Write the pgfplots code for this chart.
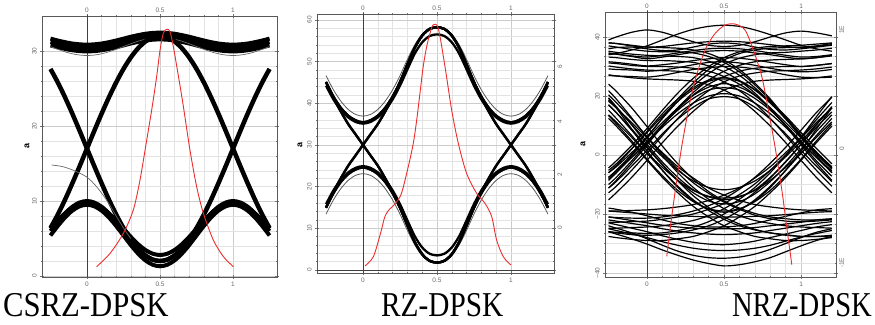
\documentclass[border=0pt]{standalone}
\usepackage{fontspec}
\setmainfont{Liberation Serif}
\setsansfont{Liberation Sans}
\usepackage{pgfplots}
\usepackage{pgfplotstable}
\pgfplotsset{compat=1.18}
\definecolor{eyered}{RGB}{236,45,45}
\definecolor{tickgray}{RGB}{105,105,105}

% ---------- CSRZ-DPSK traces (one row per trace) ----------
\pgfplotstableread{
name c1 c2 c3 c4 c5 c6 c7 c8 c9 c10 c11 c12 c13 c14 c15 c16 c17 c18 c19 c20 c21 c22 c23 c24 c25 c26 c27 c28 c29 c30 c31
x -0.25 -0.2 -0.15 -0.1 -0.05 0 0.05 0.1 0.15 0.2 0.25 0.3 0.35 0.4 0.45 0.5 0.55 0.6 0.65 0.7 0.75 0.8 0.85 0.9 0.95 1 1.05 1.1 1.15 1.2 1.25
R 6.39 8.18 10.19 12.37 14.65 17.00 19.35 21.64 23.81 25.82 27.61 29.14 30.37 31.27 31.82 32.00 31.82 31.27 30.37 29.14 27.61 25.82 23.81 21.64 19.35 17.00 14.65 12.37 10.19 8.18 6.39
F 27.61 25.82 23.81 21.64 19.35 17.00 14.65 12.37 10.19 8.18 6.39 4.86 3.63 2.73 2.18 2.00 2.18 2.73 3.63 4.86 6.39 8.18 10.19 12.37 14.65 17.00 19.35 21.64 23.81 25.82 27.61
U 31.20 30.95 30.73 30.55 30.44 30.40 30.44 30.55 30.73 30.95 31.20 31.45 31.67 31.85 31.96 32.00 31.96 31.85 31.67 31.45 31.20 30.95 30.73 30.55 30.44 30.40 30.44 30.55 30.73 30.95 31.20
Ua 31.65 31.40 31.18 31.00 30.89 30.85 30.89 31.00 31.18 31.40 31.65 31.90 32.12 32.30 32.41 32.45 32.41 32.30 32.12 31.90 31.65 31.40 31.18 31.00 30.89 30.85 30.89 31.00 31.18 31.40 31.65
Ub 30.75 30.50 30.28 30.10 29.99 29.95 29.99 30.10 30.28 30.50 30.75 31.00 31.22 31.40 31.51 31.55 31.51 31.40 31.22 31.00 30.75 30.50 30.28 30.10 29.99 29.95 29.99 30.10 30.28 30.50 30.75
Ut 30.60 30.23 29.89 29.63 29.46 29.40 29.46 29.63 29.89 30.23 30.60 30.97 31.31 31.57 31.74 31.80 31.74 31.57 31.31 30.97 30.60 30.23 29.89 29.63 29.46 29.40 29.46 29.63 29.89 30.23 30.60
B 6.00 7.24 8.35 9.24 9.80 10.00 9.80 9.24 8.35 7.24 6.00 4.76 3.65 2.76 2.20 2.00 2.20 2.76 3.65 4.76 6.00 7.24 8.35 9.24 9.80 10.00 9.80 9.24 8.35 7.24 6.00
Bb 5.40 6.67 7.81 8.72 9.30 9.50 9.30 8.72 7.81 6.67 5.40 4.13 2.99 2.08 1.50 1.30 1.50 2.08 2.99 4.13 5.40 6.67 7.81 8.72 9.30 9.50 9.30 8.72 7.81 6.67 5.40
Bc 6.30 7.38 8.36 9.13 9.63 9.80 9.63 9.13 8.36 7.38 6.30 5.22 4.24 3.47 2.97 2.80 2.97 3.47 4.24 5.22 6.30 7.38 8.36 9.13 9.63 9.80 9.63 9.13 8.36 7.38 6.30
}\rawone
\pgfplotstabletranspose[colnames from=name]{\dataone}{\rawone}

% ---------- RZ-DPSK traces ----------
\pgfplotstableread{
name c1 c2 c3 c4 c5 c6 c7 c8 c9 c10 c11 c12 c13 c14 c15 c16 c17 c18 c19 c20 c21 c22 c23 c24 c25 c26 c27 c28 c29 c30 c31
x -0.25 -0.2 -0.15 -0.1 -0.05 0 0.05 0.1 0.15 0.2 0.25 0.3 0.35 0.4 0.45 0.5 0.55 0.6 0.65 0.7 0.75 0.8 0.85 0.9 0.95 1 1.05 1.1 1.15 1.2 1.25
Ucc 15.0 18.7 22.0 25.0 27.5 30.0 32.5 35.0 38.0 41.3 45.0 49.3 53.3 56.2 57.8 58.2 57.8 56.2 53.3 49.3 45.0 41.3 38.0 35.0 32.5 30.0 27.5 25.0 22.0 18.7 15.0
Lcc 45.0 41.3 38.0 35.0 32.5 30.0 27.5 25.0 22.0 18.7 15.0 10.7 6.7 3.8 2.2 1.8 2.2 3.8 6.7 10.7 15.0 18.7 22.0 25.0 27.5 30.0 32.5 35.0 38.0 41.3 45.0
Uaa 45.1 41.6 38.9 37.0 35.9 35.4 35.9 37.0 38.9 41.6 45.1 49.3 53.3 56.2 57.8 58.2 57.8 56.2 53.3 49.3 45.1 41.6 38.9 37.0 35.9 35.4 35.9 37.0 38.9 41.6 45.1
Laa 14.9 18.4 21.1 23.0 24.1 24.6 24.1 23.0 21.1 18.4 14.9 10.7 6.7 3.8 2.2 1.8 2.2 3.8 6.7 10.7 14.9 18.4 21.1 23.0 24.1 24.6 24.1 23.0 21.1 18.4 14.9
Uac 45.1 41.6 38.9 37.0 35.9 35.4 35.9 37.0 38.9 41.6 45.1 49.3 53.3 56.2 57.8 58.2 57.8 56.2 53.3 49.3 45.0 41.3 38.0 35.0 32.5 30.0 27.5 25.0 22.0 18.7 15.0
Uca 15.0 18.7 22.0 25.0 27.5 30.0 32.5 35.0 38.0 41.3 45.0 49.3 53.3 56.2 57.8 58.2 57.8 56.2 53.3 49.3 45.1 41.6 38.9 37.0 35.9 35.4 35.9 37.0 38.9 41.6 45.1
Lac 14.9 18.4 21.1 23.0 24.1 24.6 24.1 23.0 21.1 18.4 14.9 10.7 6.7 3.8 2.2 1.8 2.2 3.8 6.7 10.7 15.0 18.7 22.0 25.0 27.5 30.0 32.5 35.0 38.0 41.3 45.0
Lca 45.0 41.3 38.0 35.0 32.5 30.0 27.5 25.0 22.0 18.7 15.0 10.7 6.7 3.8 2.2 1.8 2.2 3.8 6.7 10.7 14.9 18.4 21.1 23.0 24.1 24.6 24.1 23.0 21.1 18.4 14.9
Uo 46.6 43.2 40.5 38.5 37.3 36.9 37.3 38.5 40.5 43.2 46.6 50.5 54.0 56.6 58.0 58.4 58.0 56.6 54.0 50.5 46.6 43.2 40.5 38.5 37.3 36.9 37.3 38.5 40.5 43.2 46.6
Lo 13.4 16.8 19.5 21.5 22.7 23.1 22.7 21.5 19.5 16.8 13.4 9.5 6.0 3.4 2.0 1.6 2.0 3.4 6.0 9.5 13.4 16.8 19.5 21.5 22.7 23.1 22.7 21.5 19.5 16.8 13.4
Uv 44.2 40.9 38.4 36.6 35.5 35.1 35.5 36.6 38.4 40.9 44.2 48.1 51.9 54.6 56.1 56.5 56.1 54.6 51.9 48.1 44.2 40.9 38.4 36.6 35.5 35.1 35.5 36.6 38.4 40.9 44.2
Lv 15.8 19.1 21.6 23.4 24.5 24.9 24.5 23.4 21.6 19.1 15.8 11.9 8.1 5.4 3.9 3.5 3.9 5.4 8.1 11.9 15.8 19.1 21.6 23.4 24.5 24.9 24.5 23.4 21.6 19.1 15.8
}\rawtwo
\pgfplotstabletranspose[colnames from=name]{\datatwo}{\rawtwo}

% ---------- NRZ-DPSK traces ----------
\pgfplotstableread{
name c1 c2 c3 c4 c5 c6 c7 c8 c9 c10 c11 c12 c13 c14 c15 c16
x -0.25 -0.2 -0.1 0 0.1 0.2 0.3 0.4 0.5 0.6 0.7 0.8 0.9 1 1.1 1.2
h1 1.90 1.89 1.86 1.83 1.84 1.87 1.90 1.92 1.93 1.92 1.90 1.87 1.84 1.82 1.84 1.87
h2 1.58 1.57 1.54 1.51 1.53 1.56 1.60 1.63 1.65 1.64 1.61 1.57 1.53 1.50 1.52 1.55
h3 1.35 1.34 1.33 1.32 1.35 1.40 1.45 1.48 1.50 1.49 1.46 1.41 1.36 1.32 1.31 1.32
h4 1.72 1.71 1.68 1.66 1.69 1.73 1.77 1.80 1.81 1.80 1.77 1.73 1.69 1.66 1.67 1.70
h5 1.70 1.72 1.78 1.85 1.95 2.05 2.13 2.18 2.20 2.18 2.12 2.04 1.95 1.86 1.80 1.76
h6 1.95 2.00 2.08 2.12 2.08 2.00 1.92 1.86 1.84 1.86 1.92 2.00 2.07 2.10 2.07 2.02
h7 1.73 1.71 1.67 1.63 1.66 1.70 1.74 1.76 1.77 1.76 1.73 1.70 1.66 1.63 1.65 1.69
h8 1.46 1.45 1.44 1.42 1.44 1.48 1.53 1.57 1.58 1.56 1.52 1.47 1.43 1.41 1.42 1.45
h9 1.80 1.82 1.83 1.80 1.77 1.78 1.83 1.88 1.90 1.88 1.83 1.79 1.78 1.80 1.83 1.86
l1 -0.95 -0.96 -0.98 -1.00 -1.02 -1.03 -1.04 -1.05 -1.05 -1.05 -1.04 -1.03 -1.01 -0.99 -0.97 -0.96
l2 -1.10 -1.12 -1.16 -1.20 -1.25 -1.29 -1.32 -1.34 -1.35 -1.34 -1.32 -1.28 -1.24 -1.20 -1.16 -1.13
l3 -1.25 -1.28 -1.34 -1.40 -1.47 -1.53 -1.58 -1.61 -1.62 -1.61 -1.58 -1.53 -1.46 -1.39 -1.33 -1.28
l4 -1.05 -1.07 -1.11 -1.15 -1.19 -1.22 -1.24 -1.25 -1.25 -1.25 -1.23 -1.20 -1.17 -1.14 -1.10 -1.08
l5 -1.30 -1.34 -1.42 -1.51 -1.61 -1.70 -1.78 -1.84 -1.88 -1.86 -1.81 -1.74 -1.64 -1.54 -1.45 -1.38
l6 -1.15 -1.18 -1.24 -1.30 -1.37 -1.43 -1.48 -1.51 -1.52 -1.50 -1.46 -1.40 -1.34 -1.28 -1.22 -1.18
l7 -0.90 -0.92 -0.97 -1.03 -1.10 -1.16 -1.20 -1.22 -1.22 -1.20 -1.16 -1.10 -1.04 -0.98 -0.93 -0.91
l8 -1.20 -1.24 -1.32 -1.42 -1.53 -1.63 -1.70 -1.74 -1.75 -1.73 -1.68 -1.60 -1.50 -1.40 -1.31 -1.25
a1 -0.26 -0.15 0.11 0.38 0.66 0.91 1.11 1.25 1.29 1.25 1.11 0.91 0.66 0.38 0.11 -0.15
a2 -0.56 -0.45 -0.19 0.08 0.36 0.61 0.81 0.95 0.99 0.95 0.81 0.61 0.36 0.08 -0.19 -0.45
a3 -0.41 -0.30 -0.04 0.23 0.51 0.76 0.96 1.10 1.14 1.10 0.96 0.76 0.51 0.23 -0.04 -0.30
a4 -0.38 -0.27 -0.04 0.21 0.47 0.70 0.88 1.00 1.04 1.00 0.88 0.70 0.47 0.21 -0.04 -0.27
a5 -0.56 -0.43 -0.14 0.17 0.49 0.78 1.01 1.15 1.21 1.15 1.01 0.78 0.49 0.17 -0.14 -0.43
a6 -0.30 -0.18 0.10 0.40 0.70 0.95 1.14 1.27 1.31 1.26 1.10 0.88 0.62 0.33 0.05 -0.22
b1 0.93 0.80 0.52 0.23 -0.03 -0.26 -0.44 -0.55 -0.59 -0.55 -0.44 -0.26 -0.03 0.23 0.52 0.80
b2 0.97 0.82 0.51 0.18 -0.12 -0.38 -0.59 -0.71 -0.76 -0.71 -0.59 -0.38 -0.12 0.18 0.51 0.82
b3 0.67 0.53 0.24 -0.07 -0.35 -0.60 -0.79 -0.91 -0.95 -0.91 -0.79 -0.60 -0.35 -0.07 0.24 0.53
b4 0.68 0.56 0.30 0.03 -0.21 -0.43 -0.60 -0.70 -0.73 -0.70 -0.60 -0.43 -0.21 0.03 0.30 0.56
b5 0.96 0.80 0.44 0.07 -0.26 -0.55 -0.78 -0.92 -0.97 -0.92 -0.78 -0.55 -0.26 0.07 0.44 0.80
b6 0.85 0.72 0.42 0.12 -0.17 -0.43 -0.64 -0.78 -0.83 -0.79 -0.66 -0.45 -0.19 0.10 0.40 0.68
c1 1.02 0.89 0.61 0.31 0.02 -0.24 -0.47 -0.65 -0.80 -0.92 -1.02 -1.08 -1.12 -1.13 -1.12 -1.10
c2 0.76 0.62 0.33 0.03 -0.26 -0.53 -0.76 -0.94 -1.09 -1.20 -1.27 -1.32 -1.35 -1.38 -1.38 -1.39
c3 1.09 0.95 0.63 0.30 -0.01 -0.30 -0.55 -0.75 -0.91 -1.03 -1.11 -1.16 -1.20 -1.22 -1.23 -1.24
c4 0.62 0.49 0.21 -0.09 -0.38 -0.64 -0.87 -1.05 -1.20 -1.30 -1.38 -1.42 -1.45 -1.45 -1.43 -1.40
c5 0.91 0.80 0.55 0.29 0.04 -0.20 -0.39 -0.56 -0.68 -0.77 -0.84 -0.88 -0.91 -0.93 -0.94 -0.95
c6 1.20 1.08 0.80 0.48 0.15 -0.15 -0.41 -0.62 -0.78 -0.90 -0.99 -1.05 -1.08 -1.10 -1.10 -1.09
c7 0.85 0.72 0.44 0.14 -0.16 -0.44 -0.69 -0.89 -1.05 -1.17 -1.26 -1.32 -1.36 -1.38 -1.38 -1.36
d1 -1.14 -1.14 -1.13 -1.12 -1.09 -1.05 -1.00 -0.92 -0.82 -0.67 -0.49 -0.26 0.00 0.29 0.60 0.89
d2 -1.30 -1.32 -1.35 -1.36 -1.35 -1.32 -1.27 -1.20 -1.09 -0.94 -0.76 -0.53 -0.26 0.03 0.33 0.62
d3 -1.24 -1.24 -1.23 -1.22 -1.20 -1.16 -1.11 -1.03 -0.91 -0.75 -0.55 -0.30 -0.01 0.30 0.65 0.99
d4 -1.38 -1.40 -1.43 -1.45 -1.45 -1.42 -1.38 -1.30 -1.20 -1.05 -0.87 -0.64 -0.38 -0.09 0.21 0.49
d5 -0.95 -0.95 -0.94 -0.93 -0.91 -0.88 -0.84 -0.77 -0.68 -0.56 -0.39 -0.20 0.04 0.29 0.55 0.80
d6 -1.05 -1.06 -1.07 -1.07 -1.05 -1.01 -0.95 -0.86 -0.74 -0.58 -0.38 -0.14 0.13 0.42 0.72 0.98
d7 -1.30 -1.31 -1.32 -1.33 -1.32 -1.28 -1.22 -1.13 -1.00 -0.83 -0.63 -0.39 -0.11 0.18 0.47 0.73
e1 1.76 1.74 1.71 1.69 1.68 1.67 1.65 1.59 1.50 1.35 1.14 0.89 0.61 0.31 0.02 -0.24
e2 1.51 1.49 1.46 1.44 1.43 1.42 1.39 1.34 1.24 1.09 0.88 0.62 0.33 0.03 -0.26 -0.53
e3 1.90 1.89 1.85 1.83 1.82 1.81 1.78 1.72 1.61 1.45 1.22 0.95 0.63 0.30 -0.01 -0.30
e4 1.36 1.34 1.31 1.29 1.28 1.27 1.25 1.19 1.10 0.95 0.74 0.49 0.21 -0.09 -0.38 -0.64
e5 1.56 1.55 1.52 1.50 1.50 1.49 1.47 1.42 1.33 1.20 1.02 0.80 0.55 0.29 0.04 -0.20
e6 1.66 1.65 1.62 1.60 1.60 1.59 1.57 1.51 1.41 1.26 1.05 0.79 0.50 0.20 -0.10 -0.36
e7 1.85 1.83 1.79 1.76 1.75 1.75 1.73 1.67 1.57 1.41 1.19 0.93 0.64 0.34 0.04 -0.22
f1 -0.38 -0.26 0.01 0.31 0.62 0.91 1.17 1.38 1.54 1.64 1.70 1.73 1.74 1.76 1.78 1.81
f2 -0.64 -0.53 -0.26 0.03 0.33 0.62 0.88 1.09 1.24 1.34 1.39 1.42 1.43 1.44 1.46 1.49
f3 -0.43 -0.30 -0.01 0.30 0.63 0.95 1.22 1.45 1.61 1.72 1.78 1.81 1.82 1.83 1.85 1.89
f4 -0.76 -0.64 -0.38 -0.09 0.21 0.49 0.74 0.95 1.10 1.19 1.25 1.27 1.28 1.29 1.31 1.34
f5 -0.30 -0.20 0.04 0.29 0.55 0.80 1.02 1.20 1.33 1.42 1.47 1.49 1.50 1.50 1.52 1.55
f6 -0.50 -0.38 -0.10 0.20 0.51 0.80 1.06 1.27 1.42 1.52 1.58 1.61 1.62 1.63 1.65 1.68
f7 -0.22 -0.10 0.16 0.45 0.76 1.05 1.30 1.50 1.65 1.75 1.81 1.84 1.85 1.86 1.88 1.90
}\rawthree
\pgfplotstabletranspose[colnames from=name]{\datathree}{\rawthree}

\pgfplotsset{
  eyeaxis/.style={
    scale only axis, anchor=south west,
    axis line style={draw=black!65, line width=0.7bp},
    grid=both,
    major grid style={draw=black!20, line width=0.4bp},
    minor grid style={draw=black!11, line width=0.35bp},
    tick style={draw=black!55, line width=0.45bp},
    major tick length=3.5bp, minor tick length=2bp,
    tick align=center,
    ticklabel style={font=\fontsize{6.5}{7}\selectfont\sffamily, text=tickgray},
    /pgf/number format/assume math mode=true,
    xtick={0,0.5,1}, xticklabels={0,0.5,1},
    minor x tick num=4,
    yticklabel style={rotate=90, anchor=south},
    ylabel style={font=\fontsize{9}{9}\selectfont\sffamily\bfseries, anchor=center},
  },
  eyeover/.style={
    scale only axis, anchor=south west,
    axis line style={draw=none},
    tick style={draw=none},
    ticklabel style={font=\fontsize{6.5}{7}\selectfont\sffamily, text=tickgray},
    /pgf/number format/assume math mode=true,
    xtick={0,0.5,1}, xticklabels={0,0.5,1},
    xticklabel pos=upper, yticklabel pos=right,
    yticklabel style={rotate=90, anchor=north},
  },
  trA/.style={black, line width=4.5bp, smooth},
  trB/.style={black, line width=4bp, smooth},
  trT/.style={black!60, line width=0.7bp, smooth},
  rzM/.style={black, line width=2.3bp, smooth},
  rzT/.style={black!65, line width=0.8bp, smooth},
  nrz/.style={black, line width=1.2bp, smooth},
  redc/.style={eyered, line width=0.9bp, smooth},
  zline/.style={black!75, line width=0.7bp},
}

\begin{document}
\begin{tikzpicture}
\path[use as bounding box] (0bp,0bp) rectangle (875bp,325bp);

% ===== Panel 1: CSRZ-DPSK =====
\begin{axis}[eyeaxis, at={(42bp,48bp)}, width=235bp, height=261bp,
  xmin=-0.308, xmax=1.301, ymin=-0.133, ymax=34.67,
  ytick={0,10,20,30}, minor y tick num=4,
  ylabel={a}, ylabel style={at={(axis description cs:-0.064,0.5)}}]
  \addplot[zline] coordinates {(0,-5) (0,40)};
  \addplot[trB] table[x=x,y=Ua] {\dataone};
  \addplot[trB] table[x=x,y=U] {\dataone};
  \addplot[trB] table[x=x,y=Ub] {\dataone};
  \addplot[trT] table[x=x,y=Ut] {\dataone};
  \addplot[trB] table[x=x,y=B] {\dataone};
  \addplot[trB] table[x=x,y=Bb] {\dataone};
  \addplot[trB] table[x=x,y=Bc] {\dataone};
  \addplot[trA] table[x=x,y=R] {\dataone};
  \addplot[trA] table[x=x,y=F] {\dataone};
  \addplot[trT] coordinates {(-0.242,14.8) (-0.17,14.6) (-0.094,14.1) (-0.002,13.2) (0.066,11.9) (0.135,10.1) (0.203,7.9) (0.26,6.1) (0.3,5.0)};
  \addplot[redc] coordinates {(0.066,1.24) (0.158,3.02) (0.249,5.69) (0.317,8.8) (0.363,12.8) (0.409,18.13) (0.443,22.13) (0.477,26.6) (0.500,30.1) (0.523,32.4) (0.546,32.9) (0.568,32.6) (0.591,30.6) (0.623,27.0) (0.660,22.6) (0.705,16.8) (0.751,11.9) (0.797,8.36) (0.865,4.8) (0.934,2.58) (1.002,1.24)};
\end{axis}
\begin{axis}[eyeover, at={(42bp,48bp)}, width=235bp, height=261bp,
  xmin=-0.308, xmax=1.301, ymin=-0.133, ymax=34.67, ytick=\empty]
\end{axis}

% ===== Panel 2: RZ-DPSK =====
\begin{axis}[eyeaxis, at={(317bp,52bp)}, width=237bp, height=259bp,
  xmin=-0.311, xmax=1.291, ymin=-0.72, ymax=61.39,
  ytick={0,10,20,30,40,50,60}, minor y tick num=4,
  ylabel={a}, ylabel style={at={(axis description cs:-0.072,0.494)}}]
  \addplot[zline] coordinates {(0,-5) (0,70)};
  \addplot[zline] coordinates {(-1,0) (2,0)};
  \addplot[rzT] table[x=x,y=Uo] {\datatwo};
  \addplot[rzT] table[x=x,y=Lo] {\datatwo};
  \addplot[rzM] table[x=x,y=Uv] {\datatwo};
  \addplot[rzM] table[x=x,y=Lv] {\datatwo};
  \addplot[rzM] table[x=x,y=Ucc] {\datatwo};
  \addplot[rzM] table[x=x,y=Lcc] {\datatwo};
  \addplot[rzM] table[x=x,y=Uaa] {\datatwo};
  \addplot[rzM] table[x=x,y=Laa] {\datatwo};
  \addplot[rzM] table[x=x,y=Uac] {\datatwo};
  \addplot[rzM] table[x=x,y=Uca] {\datatwo};
  \addplot[rzM] table[x=x,y=Lac] {\datatwo};
  \addplot[rzM] table[x=x,y=Lca] {\datatwo};
  \addplot[redc] coordinates {(0.014,1.0) (0.07,3.2) (0.12,9.0) (0.145,12.5) (0.17,14.2) (0.22,16.0) (0.26,18.4) (0.306,24.8) (0.34,30.4) (0.363,36.0) (0.385,42.4) (0.407,48.8) (0.43,53.5) (0.453,56.8) (0.475,58.8) (0.509,57.9) (0.554,48.8) (0.599,38.4) (0.644,30.4) (0.70,23.2) (0.768,18.4) (0.824,16.0) (0.87,12.8) (0.903,7.2) (0.948,3.2) (1.0,1.2)};
\end{axis}
\begin{axis}[eyeover, at={(317bp,52bp)}, width=237bp, height=259bp,
  xmin=-0.311, xmax=1.291, ymin=-0.72, ymax=61.39,
  ytick={10.1,22.8,35.5,48.7}, yticklabels={0,2,4,6}]
\end{axis}

% ===== Panel 3: NRZ-DPSK =====
\begin{axis}[eyeaxis, at={(605bp,48bp)}, width=231bp, height=265bp,
  xmin=-0.273, xmax=1.227, ymin=-2.068, ymax=2.424,
  ytick={-2,-1,0,1,2}, yticklabels={−40,−20,0,20,40}, minor y tick num=5,
  ylabel={a}, ylabel style={at={(axis description cs:-0.095,0.5)}}]
  \addplot[zline] coordinates {(0,-5) (0,5)};
  \pgfplotsinvokeforeach{h1,h2,h3,h4,h5,h6,h7,h8,h9,l1,l2,l3,l4,l5,l6,l7,l8,a1,a2,a3,a4,a5,a6,b1,b2,b3,b4,b5,b6,c1,c2,c3,c4,c5,c6,c7,d1,d2,d3,d4,d5,d6,d7,e1,e2,e3,e4,e5,e6,e7,f1,f2,f3,f4,f5,f6,f7}{
    \addplot[nrz] table[x=x,y=#1] {\datathree};
  }
  \addplot[redc] coordinates {(0.128,-1.72) (0.16,-1.05) (0.193,-0.42) (0.225,0.14) (0.268,0.76) (0.312,1.27) (0.377,1.78) (0.442,2.06) (0.506,2.2) (0.571,2.22) (0.636,2.12) (0.69,1.78) (0.745,1.33) (0.788,0.76) (0.831,0.14) (0.875,-0.59) (0.907,-1.22) (0.94,-1.86)};
\end{axis}
\begin{axis}[eyeover, at={(605bp,48bp)}, width=231bp, height=265bp,
  xmin=-0.273, xmax=1.227, ymin=-2.068, ymax=2.424,
  ytick={-1.83,0.10,2.12}, yticklabels={-1E,0,1E}]
\end{axis}

% ===== captions =====
\node[anchor=base west, inner sep=0pt, xscale=0.88, font=\fontsize{35}{35}\selectfont] at (3bp,9bp) {CSRZ-DPSK};
\node[anchor=base west, inner sep=0pt, xscale=0.84, font=\fontsize{35}{35}\selectfont] at (381bp,9bp) {RZ-DPSK};
\node[anchor=base east, inner sep=0pt, xscale=0.82, font=\fontsize{35}{35}\selectfont] at (872bp,9bp) {NRZ-DPSK};
\end{tikzpicture}
\end{document}
